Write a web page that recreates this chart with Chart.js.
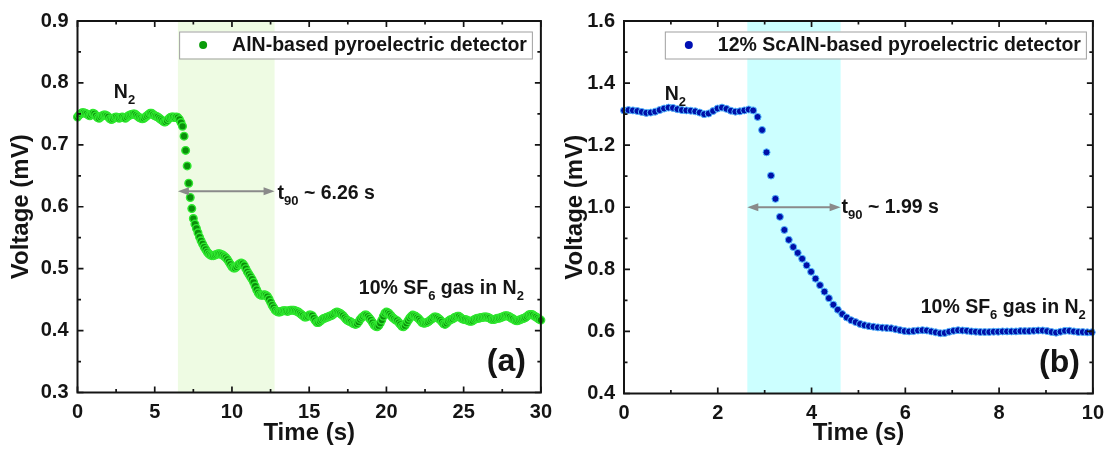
<!DOCTYPE html>
<html>
<head>
<meta charset="utf-8">
<script src="https://cdn.jsdelivr.net/npm/chart.js@4.4.1/dist/chart.umd.min.js"></script>
<style>
  html, body { margin: 0; padding: 0; background: #fff; }
  #wrap { position: relative; width: 1112px; height: 450px; }
  .panel { position: absolute; top: 0; height: 450px; }
  #pa { left: 0; width: 560px; }
  #pb { left: 560px; width: 552px; }
</style>
</head>
<body>
<div id="wrap">
  <div class="panel" id="pa"><canvas id="chartA"></canvas></div>
  <div class="panel" id="pb"><canvas id="chartB"></canvas></div>
</div>
<script>
const FONT = '"Liberation Sans", Arial, sans-serif';
const INK = '#141414';

// (a) AlN detector, one reading every 0.1 s from 0 to 30 s
const alnStep = 0.1;
const alnVoltage = [
  0.745,0.748,0.750,0.752,0.752,0.751,0.750,0.748,0.747,0.749,
  0.751,0.750,0.747,0.744,0.743,0.745,0.747,0.748,0.748,0.747,
  0.745,0.742,0.741,0.742,0.744,0.745,0.744,0.743,0.744,0.745,
  0.744,0.743,0.745,0.747,0.748,0.749,0.750,0.750,0.748,0.746,
  0.744,0.743,0.742,0.743,0.745,0.747,0.749,0.751,0.751,0.749,
  0.747,0.746,0.745,0.743,0.741,0.739,0.737,0.737,0.739,0.742,
  0.744,0.745,0.745,0.744,0.745,0.744,0.741,0.736,0.730,0.714,
  0.691,0.666,0.638,0.615,0.597,0.581,0.572,0.565,0.558,0.551,
  0.545,0.540,0.535,0.531,0.527,0.524,0.522,0.521,0.521,0.522,
  0.523,0.524,0.524,0.523,0.522,0.520,0.518,0.515,0.511,0.507,
  0.503,0.501,0.501,0.503,0.506,0.508,0.509,0.508,0.505,0.500,
  0.495,0.491,0.487,0.483,0.478,0.472,0.466,0.461,0.458,0.457,
  0.457,0.458,0.457,0.455,0.451,0.446,0.441,0.437,0.433,0.431,
  0.430,
  0.430,0.431,0.432,0.432,0.432,0.431,0.432,0.433,0.433,0.433,
  0.432,0.431,0.430,0.428,0.426,0.424,0.422,0.422,0.423,0.425,
  0.425,0.424,0.420,0.416,0.413,0.413,0.415,0.417,0.419,0.420,
  0.421,0.422,0.423,0.424,0.425,0.427,0.429,0.430,0.429,0.428,
  0.426,0.424,0.421,0.418,0.416,0.415,0.414,0.412,0.411,0.410,
  0.411,0.414,0.418,0.421,0.423,0.425,0.425,0.423,0.420,0.417,
  0.413,0.409,0.407,0.406,0.408,0.412,0.417,0.423,0.428,0.430,
  0.429,0.427,0.424,0.421,0.419,0.417,0.416,0.413,0.410,0.407,
  0.406,0.408,0.412,0.416,0.420,0.423,0.425,0.424,0.423,0.421,
  0.419,0.416,0.413,0.412,0.412,0.413,0.414,0.416,0.418,0.420,
  0.422,0.422,0.421,0.419,0.417,0.414,0.411,0.410,0.412,0.415,
  0.417,0.418,0.419,0.421,0.422,0.423,0.423,0.421,0.419,0.418,
  0.418,0.417,0.416,0.415,0.415,0.416,0.418,0.419,0.420,0.420,
  0.421,0.421,0.422,0.422,0.422,0.421,0.420,0.418,0.418,0.418,
  0.419,0.420,0.420,0.421,0.422,0.423,0.424,0.424,0.423,0.422,
  0.420,0.419,0.417,0.416,0.416,0.417,0.418,0.419,0.420,0.421,
  0.423,0.425,0.426,0.426,0.425,0.423,0.422,0.420,0.418,0.417
];

// (b) 12% ScAlN detector, one reading every 0.095 s
const scalnStep = 0.095;
const scalnVoltage = [
  1.312,1.313,1.312,1.310,1.307,1.304,1.305,1.308,1.313,1.318,
  1.321,1.320,1.316,1.313,1.312,1.311,1.309,1.305,1.300,1.302,
  1.310,1.318,1.321,1.317,1.311,1.308,1.309,1.312,1.315,1.312,
  1.291,1.249,1.177,1.102,1.027,0.969,0.927,0.895,0.872,0.853,
  0.834,0.813,0.792,0.770,0.749,0.728,0.707,0.686,0.670,0.656,
  0.645,0.636,0.630,0.624,0.620,0.617,0.615,0.613,0.612,0.611,
  0.610,0.607,0.604,0.601,0.600,0.601,0.603,0.604,0.603,0.600,
  0.597,0.594,0.595,0.599,0.602,0.604,0.603,0.602,0.600,0.599,
  0.598,0.598,0.598,0.599,0.599,0.600,0.600,0.600,0.600,0.601,
  0.601,0.601,0.602,0.603,0.603,0.601,0.598,0.596,0.599,0.602,
  0.602,0.600,0.598,0.598,0.597,0.597
];

const alnTimeTicks = [0, 5, 10, 15, 20, 25, 30];
const alnVoltTicks = [0.3, 0.4, 0.5, 0.6, 0.7, 0.8, 0.9];
const scalnTimeTicks = [0, 2, 4, 6, 8, 10];
const scalnVoltTicks = [0.4, 0.6, 0.8, 1.0, 1.2, 1.4, 1.6];

// gas switching window (s) used for shading and the t90 arrow
const alnWindow = [6.5, 12.76];
const scalnWindow = [2.63, 4.62];

function points(values, step) {
  return values.map((v, i) => ({ x: Math.round(i * step * 1000) / 1000, y: v }));
}

function richText(ctx, parts, x, y, size, align) {
  const big = 'bold ' + size + 'px ' + FONT;
  const small = 'bold ' + Math.round(size * 0.68) + 'px ' + FONT;
  let total = 0;
  const widths = parts.map(p => {
    ctx.font = p[1] ? small : big;
    const w = ctx.measureText(p[0]).width;
    total += w;
    return w;
  });
  let cx = align === 'right' ? x - total : x;
  ctx.textAlign = 'left';
  ctx.textBaseline = 'alphabetic';
  parts.forEach((p, i) => {
    ctx.font = p[1] ? small : big;
    ctx.fillText(p[0], cx, y + (p[1] ? size * 0.3 : 0));
    cx += widths[i];
  });
}

const decor = {
  chartA: {
    window: alnWindow, shade: '#eefbe3', arrowY: 0.625,
    legend: 'AlN-based pyroelectric detector', legendDot: '#0a9c0a', legendInset: 9,
    notes: [
      { x: 2.35, y: 0.775, align: 'left', parts: [['N'], ['2', 1]] },
      { x: 12.95, y: 0.613, align: 'left', parts: [['t'], ['90', 1], [' ~ ' + (alnWindow[1] - alnWindow[0]).toFixed(2) + ' s']] },
      { x: 28.9, y: 0.459, align: 'right', parts: [['10% SF'], ['6', 1], [' gas in N'], ['2', 1]] }
    ],
    panel: '(a)', panelInset: 15
  },
  chartB: {
    window: scalnWindow, shade: '#ccffff', arrowY: 1.0,
    legend: '12% ScAlN-based pyroelectric detector', legendDot: '#0010b4', legendInset: 7,
    notes: [
      { x: 0.87, y: 1.346, align: 'left', parts: [['N'], ['2', 1]] },
      { x: 4.64, y: 0.982, align: 'left', parts: [['t'], ['90', 1], [' ~ ' + (scalnWindow[1] - scalnWindow[0]).toFixed(2) + ' s']] },
      { x: 9.85, y: 0.659, align: 'right', parts: [['10% SF'], ['6', 1], [' gas in N'], ['2', 1]] }
    ],
    panel: '(b)', panelInset: 13
  }
};

const decoPlugin = {
  id: 'deco',
  beforeDatasetsDraw(chart) {
    const d = decor[chart.canvas.id];
    const { ctx, chartArea: a, scales: { x } } = chart;
    const x0 = x.getPixelForValue(d.window[0]);
    const x1 = x.getPixelForValue(d.window[1]);
    ctx.save();
    ctx.fillStyle = d.shade;
    ctx.fillRect(x0, a.top, x1 - x0, a.bottom - a.top);
    ctx.restore();
  },
  afterDatasetsDraw(chart) {
    const d = decor[chart.canvas.id];
    const { ctx, chartArea: a, scales: { x, y } } = chart;
    ctx.save();

    // double arrow across the t90 window
    const ay = y.getPixelForValue(d.arrowY);
    const ax0 = x.getPixelForValue(d.window[0]);
    const ax1 = x.getPixelForValue(d.window[1]);
    ctx.strokeStyle = '#8a8a8a';
    ctx.fillStyle = '#8a8a8a';
    ctx.lineWidth = 2;
    ctx.beginPath();
    ctx.moveTo(ax0 + 8, ay);
    ctx.lineTo(ax1 - 8, ay);
    ctx.stroke();
    ctx.beginPath();
    ctx.moveTo(ax0, ay); ctx.lineTo(ax0 + 11, ay - 4); ctx.lineTo(ax0 + 11, ay + 4); ctx.closePath();
    ctx.moveTo(ax1, ay); ctx.lineTo(ax1 - 11, ay - 4); ctx.lineTo(ax1 - 11, ay + 4); ctx.closePath();
    ctx.fill();

    // frame with inward ticks on all four sides
    ctx.strokeStyle = INK;
    ctx.lineWidth = 1.7;
    const xt = x.ticks.map(t => t.value);
    const yt = y.ticks.map(t => t.value);
    const mids = v => v.slice(1).map((b, i) => (b + v[i]) / 2);
    ctx.beginPath();
    const tickX = (vals, len) => vals.forEach(v => {
      const p = x.getPixelForValue(v);
      ctx.moveTo(p, a.bottom); ctx.lineTo(p, a.bottom - len);
      ctx.moveTo(p, a.top); ctx.lineTo(p, a.top + len);
    });
    const tickY = (vals, len) => vals.forEach(v => {
      const p = y.getPixelForValue(v);
      ctx.moveTo(a.left, p); ctx.lineTo(a.left + len, p);
      ctx.moveTo(a.right, p); ctx.lineTo(a.right - len, p);
    });
    tickX(xt, 6); tickX(mids(xt), 3.5);
    tickY(yt, 6); tickY(mids(yt), 3.5);
    ctx.stroke();
    ctx.lineWidth = 2;
    ctx.strokeRect(a.left, a.top, a.right - a.left, a.bottom - a.top);

    // legend box
    ctx.font = 'bold 19.5px ' + FONT;
    const tw = ctx.measureText(d.legend).width;
    const boxRight = a.right - d.legendInset;
    const textLeft = boxRight - 5 - tw;
    const dotX = textLeft - 29;
    const boxLeft = dotX - 24;
    const boxTop = a.top + 10.5;
    ctx.fillStyle = '#fff';
    ctx.fillRect(boxLeft, boxTop, boxRight - boxLeft, 27);
    ctx.strokeStyle = '#a0a0a0';
    ctx.lineWidth = 1;
    ctx.strokeRect(boxLeft + 0.5, boxTop + 0.5, boxRight - boxLeft, 27);
    ctx.fillStyle = d.legendDot;
    ctx.beginPath();
    ctx.arc(dotX, boxTop + 13.5, 4, 0, Math.PI * 2);
    ctx.fill();
    ctx.fillStyle = INK;
    ctx.textAlign = 'left';
    ctx.textBaseline = 'middle';
    ctx.fillText(d.legend, textLeft, boxTop + 14.5);

    // annotations
    d.notes.forEach(n => {
      richText(ctx, n.parts, x.getPixelForValue(n.x), y.getPixelForValue(n.y), 19.5, n.align);
    });

    ctx.font = 'bold 32px ' + FONT;
    ctx.textAlign = 'right';
    ctx.textBaseline = 'alphabetic';
    ctx.fillText(d.panel, a.right - d.panelInset, a.bottom - 22);
    ctx.restore();
  }
};

function makeChart(id, cfg) {
  const tickFont = { family: FONT, size: 20, weight: 'bold' };
  const titleFont = { family: FONT, size: 24, weight: 'bold' };
  return new Chart(document.getElementById(id), {
    type: 'scatter',
    data: {
      datasets: [{
        data: cfg.data,
        showLine: false,
        pointRadius: cfg.radius,
        pointHoverRadius: cfg.radius,
        pointBackgroundColor: cfg.fill,
        pointBorderColor: cfg.edge,
        pointBorderWidth: cfg.edgeWidth,
        clip: false
      }]
    },
    options: {
      responsive: true,
      maintainAspectRatio: false,
      animation: false,
      devicePixelRatio: 1,
      layout: { padding: cfg.padding },
      plugins: { legend: { display: false }, tooltip: { enabled: false } },
      scales: {
        x: {
          type: 'linear', min: cfg.xTicks[0], max: cfg.xTicks[cfg.xTicks.length - 1],
          afterBuildTicks: s => { s.ticks = cfg.xTicks.map(v => ({ value: v })); },
          afterFit: s => { s.height = cfg.xHeight; },
          grid: { display: false, drawTicks: false },
          border: { display: false },
          ticks: { font: tickFont, color: INK, padding: 8, autoSkip: false, maxRotation: 0, callback: v => String(v) },
          title: { display: true, text: 'Time (s)', font: titleFont, color: INK, padding: { top: 0, bottom: 2 } }
        },
        y: {
          type: 'linear', min: cfg.yTicks[0], max: cfg.yTicks[cfg.yTicks.length - 1],
          afterBuildTicks: s => { s.ticks = cfg.yTicks.map(v => ({ value: v })); },
          afterFit: s => { s.width = cfg.yWidth; },
          grid: { display: false, drawTicks: false },
          border: { display: false },
          ticks: { font: tickFont, color: INK, padding: 9, autoSkip: false, callback: v => Number(v).toFixed(1) },
          title: { display: true, text: 'Voltage (mV)', font: titleFont, color: INK, padding: { top: cfg.yTitlePad, bottom: 0 } }
        }
      }
    },
    plugins: [decoPlugin]
  });
}

makeChart('chartA', {
  data: points(alnVoltage, alnStep),
  xTicks: alnTimeTicks, yTicks: alnVoltTicks,
  radius: 3.8, fill: '#0a8f0a', edge: '#30e830', edgeWidth: 1.4,
  padding: { left: 0, right: 16.5, top: 16.5, bottom: 0 },
  xHeight: 57.5, yWidth: 77.5, yTitlePad: 7
});

makeChart('chartB', {
  data: points(scalnVoltage, scalnStep),
  xTicks: scalnTimeTicks, yTicks: scalnVoltTicks,
  radius: 3.5, fill: '#0010a8', edge: '#55b8ff', edgeWidth: 1,
  padding: { left: 0, right: 17, top: 15, bottom: 0 },
  xHeight: 56.5, yWidth: 64, yTitlePad: 1
});
</script>
</body>
</html>
